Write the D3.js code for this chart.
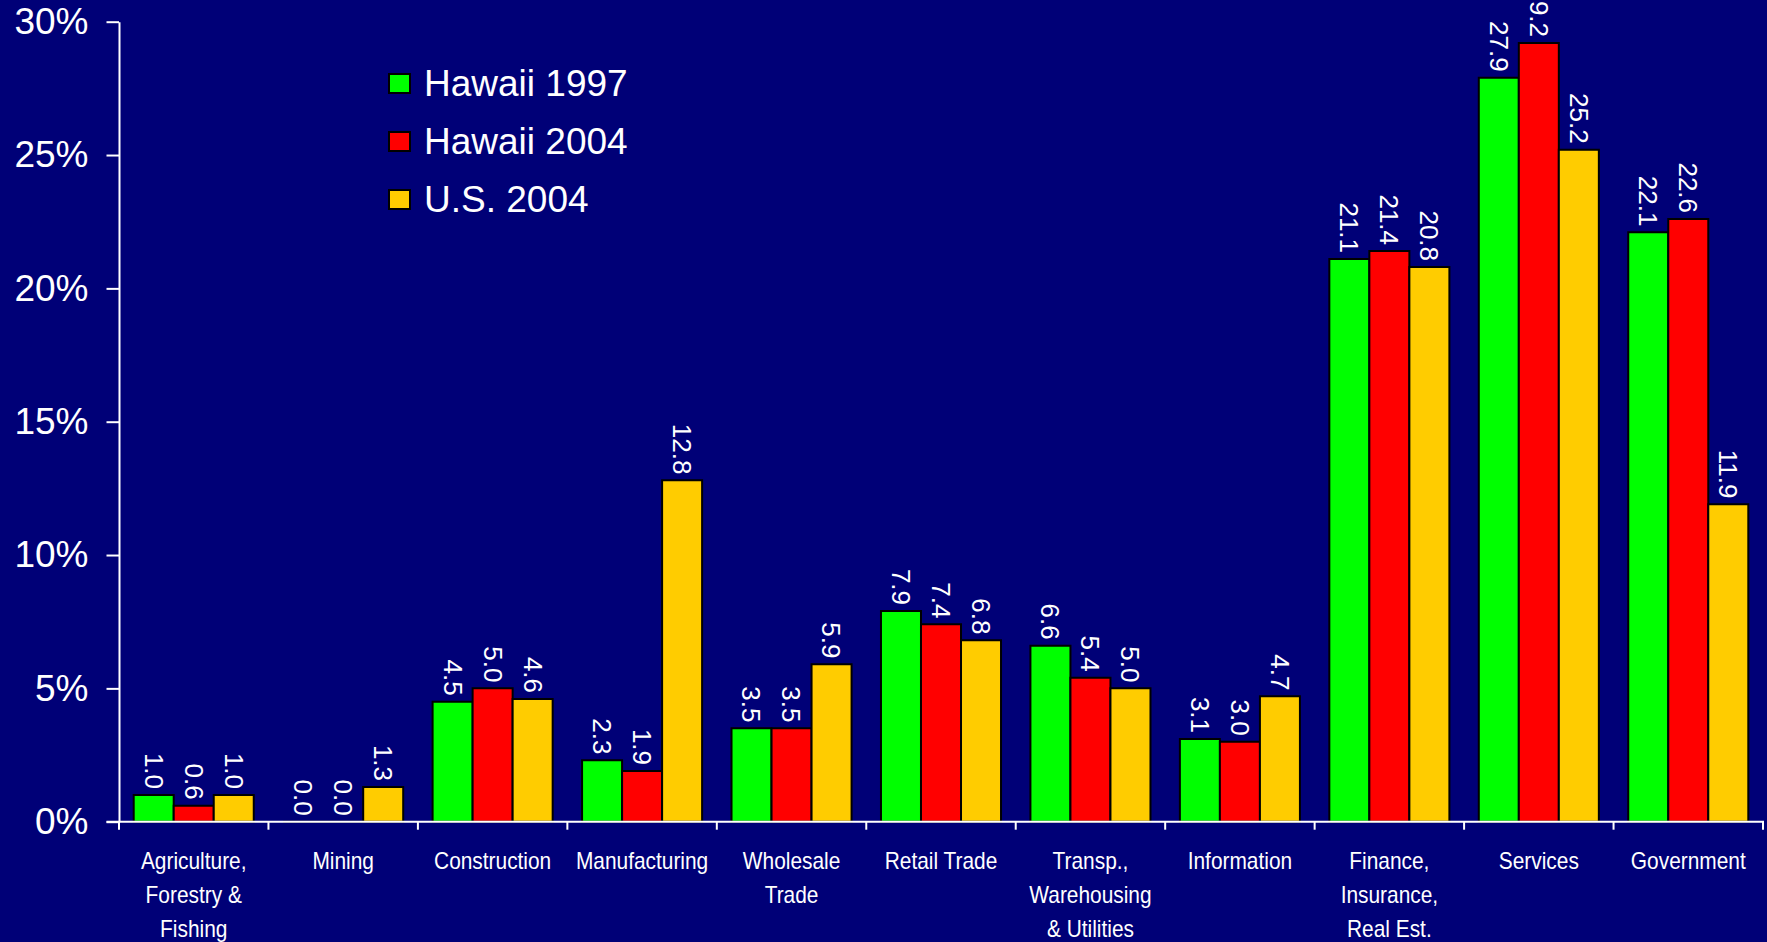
<!DOCTYPE html>
<html>
<head>
<meta charset="utf-8">
<script src="https://cdn.jsdelivr.net/npm/d3@7"></script>
<style>
  html, body { margin: 0; padding: 0; background: #000077; overflow: hidden; }
  svg { display: block; }
</style>
</head>
<body>
<svg id="chart" width="1767" height="942"></svg>
<script>
// ---- data ----
const categories = [
  "Agriculture, Forestry & Fishing", "Mining", "Construction", "Manufacturing",
  "Wholesale Trade", "Retail Trade", "Transp., Warehousing & Utilities",
  "Information", "Finance, Insurance, Real Est.", "Services", "Government"
];
const categoryLines = [
  ["Agriculture,", "Forestry &", "Fishing"], ["Mining"], ["Construction"], ["Manufacturing"],
  ["Wholesale", "Trade"], ["Retail Trade"], ["Transp.,", "Warehousing", "& Utilities"],
  ["Information"], ["Finance,", "Insurance,", "Real Est."], ["Services"], ["Government"]
];
const seriesNames = ["Hawaii 1997", "Hawaii 2004", "U.S. 2004"];
const seriesColors = ["#00ff00", "#ff0000", "#ffcc00"];
const hawaii1997 = [1.0, 0.0, 4.5, 2.3, 3.5, 7.9, 6.6, 3.1, 21.1, 27.9, 22.1];
const hawaii2004 = [0.6, 0.0, 5.0, 1.9, 3.5, 7.4, 5.4, 3.0, 21.4, 29.2, 22.6];
const us2004     = [1.0, 1.3, 4.6, 12.8, 5.9, 6.8, 5.0, 4.7, 20.8, 25.2, 11.9];
const yTicks = [0, 5, 10, 15, 20, 25, 30];

const seriesValues = [hawaii1997, hawaii2004, us2004];
const FONT = "'Liberation Sans', Arial, Helvetica, sans-serif";

const svg = d3.select("#chart");
svg.append("rect").attr("width", 1767).attr("height", 942).attr("fill", "#000077");

const x0 = d3.scaleBand().domain(categories).range([119, 1763]);
const step = x0.step();
const groupPad = 14.7;
const x1 = d3.scaleBand().domain(seriesNames).range([groupPad, step - groupPad]);
const y = d3.scaleLinear().domain([0, 30]).range([821.7, 21.7]);

// bars
const barData = [];
categories.forEach((c, i) => {
  seriesNames.forEach((s, j) => {
    barData.push({ cat: c, ser: s, color: seriesColors[j], value: seriesValues[j][i] });
  });
});

const bars = svg.append("g");
bars.selectAll("path").data(barData).enter().append("path")
  .attr("d", d => {
    const bx = x0(d.cat) + x1(d.ser);
    const w = x1.bandwidth();
    const top = y(d.value), base = y(0);
    return `M${bx},${base}V${top}H${bx + w}V${base}Z`;
  })
  .attr("fill", d => d.color)
  .attr("stroke", "#000")
  .attr("stroke-width", 2);

// value labels (rotated)
svg.append("g").selectAll("text").data(barData).enter().append("text")
  .attr("transform", d => {
    const cx = x0(d.cat) + x1(d.ser) + x1.bandwidth() / 2;
    return `translate(${cx},${y(d.value) - 6}) rotate(90)`;
  })
  .attr("text-anchor", "end")
  .attr("dy", "0.35em")
  .attr("fill", "#fff")
  .attr("font-family", FONT)
  .attr("font-size", 26)
  .text(d => d.value.toFixed(1));

// y axis
const yAxis = svg.append("g").attr("transform", "translate(119,0)")
  .call(d3.axisLeft(y).tickValues(yTicks).tickFormat(d => d + "%").tickSize(12.5).tickSizeOuter(0).tickPadding(18));
yAxis.select(".domain").attr("stroke", "#fff").attr("stroke-width", 2);
yAxis.selectAll(".tick line").attr("stroke", "#fff").attr("stroke-width", 2);
yAxis.selectAll(".tick text").attr("fill", "#fff").attr("font-family", FONT).attr("font-size", 37);

// x axis
const xAxisG = svg.append("g");
xAxisG.append("line")
  .attr("x1", 106.5).attr("x2", x0.range()[1] + 1).attr("y1", y(0)).attr("y2", y(0))
  .attr("stroke", "#fff").attr("stroke-width", 2);
const boundaries = categories.map(c => x0(c)).concat([x0.range()[1]]);
xAxisG.selectAll(".xt").data(boundaries).enter().append("line")
  .attr("x1", d => d).attr("x2", d => d)
  .attr("y1", y(0)).attr("y2", y(0) + 8)
  .attr("stroke", "#fff").attr("stroke-width", 2);

// category labels (condensed)
const catG = svg.append("g").selectAll("g").data(categories).enter().append("g")
  .attr("transform", d => `translate(${x0(d) + step / 2},869) scale(0.87,1)`);
catG.each(function (d, i) {
  const t = d3.select(this).append("text")
    .attr("text-anchor", "middle")
    .attr("fill", "#fff")
    .attr("font-family", FONT)
    .attr("font-size", 24);
  categoryLines[i].forEach((ln, k) => {
    t.append("tspan").attr("x", 0).attr("y", k * 34).text(ln);
  });
});

// legend
const legend = svg.append("g").attr("transform", "translate(389,74)");
seriesNames.forEach((s, j) => {
  const g = legend.append("g").attr("transform", `translate(0,${j * 58})`);
  g.append("rect").attr("width", 21).attr("height", 19)
    .attr("fill", seriesColors[j]).attr("stroke", "#000").attr("stroke-width", 2);
  g.append("text").attr("x", 35).attr("y", 21.7)
    .attr("fill", "#fff").attr("font-family", FONT).attr("font-size", 37).text(s);
});
</script>
</body>
</html>
